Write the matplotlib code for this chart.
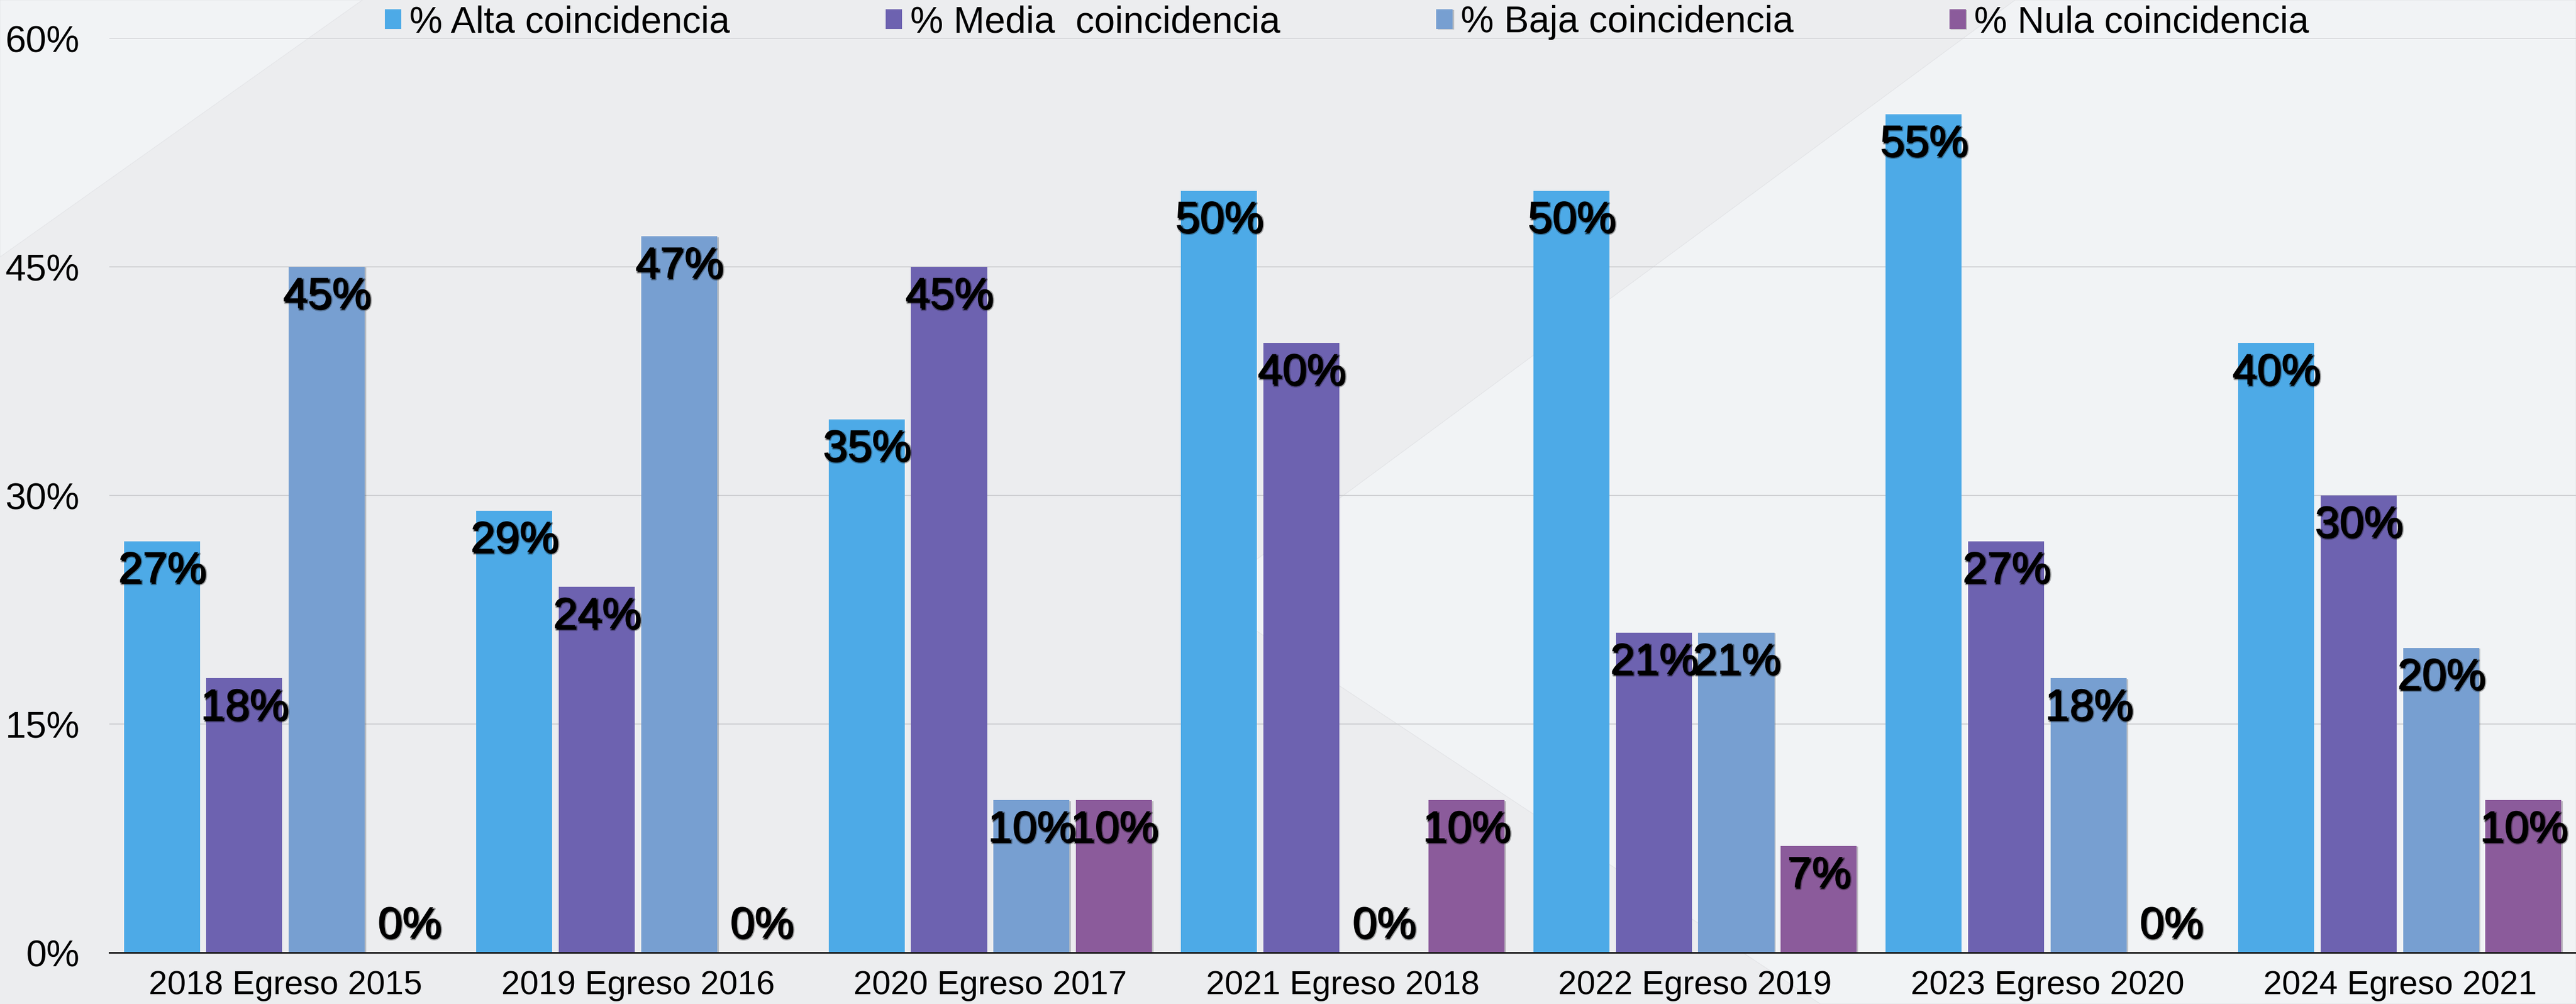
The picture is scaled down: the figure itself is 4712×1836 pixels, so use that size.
import matplotlib
matplotlib.use("Agg")
import matplotlib.pyplot as plt
import matplotlib.patheffects as pe
from matplotlib.patches import Polygon
import numpy as np

categories = ["2018 Egreso 2015", "2019 Egreso 2016", "2020 Egreso 2017",
              "2021 Egreso 2018", "2022 Egreso 2019", "2023 Egreso 2020",
              "2024 Egreso 2021"]
series_names = ["% Alta coincidencia", "% Media  coincidencia",
                "% Baja coincidencia", "% Nula coincidencia"]
alta = [27, 29, 35, 50, 50, 55, 40]
media = [18, 24, 45, 40, 21, 27, 30]
baja = [45, 47, 10, 0, 21, 18, 20]
nula = [0, 0, 10, 10, 7, 0, 10]
yticks = [0, 15, 30, 45, 60]
ytick_labels = ["0%", "15%", "30%", "45%", "60%"]

colors = ["#4DAAE7", "#6D62B0", "#779FD1", "#8B5B9B"]

plt.rcParams['font.family'] = ['Liberation Sans', 'DejaVu Sans']

W, H = 4712, 1836
fig = plt.figure(figsize=(W / 100, H / 100), dpi=100)
fig.patch.set_facecolor("#ECEDEF")

# decorative background shapes
light = "#F1F3F5"
fig.add_artist(Polygon([(0, 1), (663 / W, 1), (0, 1 - 470 / H)], closed=True,
                       transform=fig.transFigure, facecolor=light,
                       edgecolor="#E4E5E8", lw=0.8, zorder=-10))
fig.add_artist(Polygon([(3686 / W, 1), (1, 1), (1, 0), (3330 / W, 0),
                        (2205 / W, 1 - 1092 / H)], closed=True,
                       transform=fig.transFigure, facecolor=light,
                       edgecolor="#E2E3E6", lw=0.8, zorder=-10))

ax = fig.add_axes([200 / W, 94 / H, 1 - 200 / W, (1742 - 70) / H])
ax.set_facecolor("none")

x = np.arange(len(categories))
step = 0.234
width = 0.2157
all_series = [alta, media, baja, nula]

label_fx = [pe.Stroke(linewidth=3, foreground=(0, 0, 0, 0.3), offset=(2, -2)),
            pe.Normal()]
# labels sit inside the bar end, but never below the baseline
min_label_top = 3.7

for i, (vals, name, col) in enumerate(zip(all_series, series_names, colors)):
    pos = x + (i - 1.5) * step
    bars = ax.bar(pos, vals, width=width, color=col, label=name, zorder=3)
    if i >= 2:
        for b in bars:
            b.set_path_effects([pe.SimplePatchShadow(offset=(2, -1), alpha=0.25),
                                pe.Normal()])
    for p, v in zip(pos, vals):
        ax.annotate(f"{v}%", xy=(p, max(v, min_label_top)), xytext=(0, -12),
                    textcoords="offset points",
                    ha="center", va="top", fontsize=58, color="black",
                    zorder=5, path_effects=label_fx)

ax.set_xlim(-0.5, len(categories) - 0.5)
ax.set_ylim(0, 60)
ax.set_yticks(yticks)
ax.set_yticklabels(ytick_labels)
ax.set_xticks(x)
ax.set_xticklabels(categories)
ax.tick_params(axis="y", length=0, pad=39, labelsize=49)
ax.tick_params(axis="x", length=0, pad=23, labelsize=44)
ax.yaxis.grid(True, color="#C9CACD", lw=1.2)
ax.set_axisbelow(True)
for s in ["left", "right", "top"]:
    ax.spines[s].set_visible(False)
ax.spines["bottom"].set_color("#1A1A1A")
ax.spines["bottom"].set_linewidth(2.2)
ax.spines["bottom"].set_zorder(4)

fig.legend(loc="center", bbox_to_anchor=(2463.5 / W, 1 - 41 / H), ncol=4,
           frameon=False, fontsize=49, handlelength=0.44, handleheight=0.44,
           handletextpad=0.22, columnspacing=4.19, borderpad=0, borderaxespad=0)

fig.savefig("out.png", dpi=100, facecolor=fig.get_facecolor())
